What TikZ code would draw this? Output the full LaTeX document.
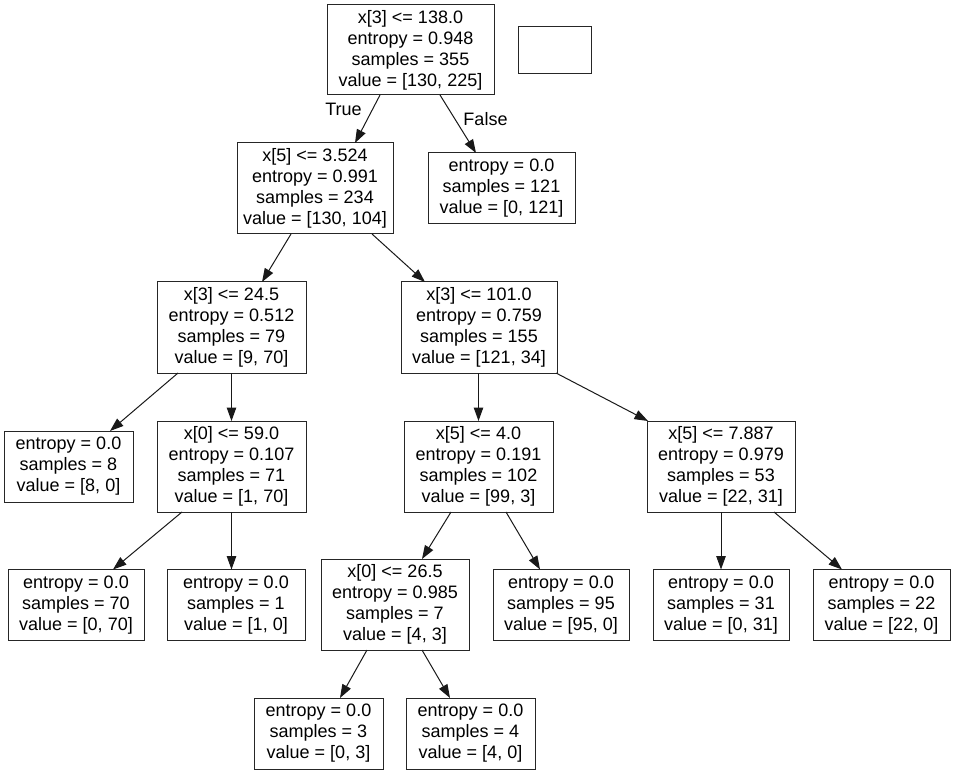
\documentclass[tikz,border=0pt]{standalone}
\usepackage{fontspec}
\setmainfont{Liberation Sans}
\usetikzlibrary{arrows.meta}

\begin{document}
\begin{tikzpicture}[x=1pt, y=-1pt,
  font=\fontsize{18}{21}\selectfont,
  treebox/.style={draw=black!85, rectangle, inner sep=0pt, outer sep=0pt,
    align=center, line width=1pt},
  split/.style={treebox, minimum height=91pt},
  leaf/.style={treebox, minimum height=71pt},
  link/.style={draw=black!90, line width=1pt, -{Triangle[length=13.5pt,width=9.5pt]}},
  edgelabel/.style={inner sep=0pt}]

% canvas
\fill[white] (0,0) rectangle (955,775);
\useasboundingbox (0,0) rectangle (955,775);

% decision nodes
\node[split, minimum width=167pt, minimum height=90pt] (root) at (410.5,50)
  {x[3] <= 138.0\\entropy = 0.948\\samples = 355\\value = [130, 225]};
\node[split, minimum width=156pt] (n1) at (315,188.5)
  {x[5] <= 3.524\\entropy = 0.991\\samples = 234\\value = [130, 104]};
\node[split, minimum width=149pt] (n2) at (231.5,327.5)
  {x[3] <= 24.5\\entropy = 0.512\\samples = 79\\value = [9, 70]};
\node[split, minimum width=156pt] (n3) at (479,327.5)
  {x[3] <= 101.0\\entropy = 0.759\\samples = 155\\value = [121, 34]};
\node[split, minimum width=149pt] (n4) at (231.5,466.5)
  {x[0] <= 59.0\\entropy = 0.107\\samples = 71\\value = [1, 70]};
\node[split, minimum width=149pt] (n5) at (478.5,466.5)
  {x[5] <= 4.0\\entropy = 0.191\\samples = 102\\value = [99, 3]};
\node[split, minimum width=148pt] (n6) at (721,466.5)
  {x[5] <= 7.887\\entropy = 0.979\\samples = 53\\value = [22, 31]};
\node[split, minimum width=148pt] (n7) at (395,604.5)
  {x[0] <= 26.5\\entropy = 0.985\\samples = 7\\value = [4, 3]};

% empty box beside the root
\node[treebox, minimum width=73pt, minimum height=47pt] (blank) at (554.5,50.5) {};

% leaves
\node[leaf, minimum width=147pt] (lf) at (501.5,188.5)
  {entropy = 0.0\\samples = 121\\value = [0, 121]};
\node[leaf, minimum width=129pt] (l8) at (68.5,466.5)
  {entropy = 0.0\\samples = 8\\value = [8, 0]};
\node[leaf, minimum width=136pt] (l70) at (76,605)
  {entropy = 0.0\\samples = 70\\value = [0, 70]};
\node[leaf, minimum width=138pt] (l1) at (236,605)
  {entropy = 0.0\\samples = 1\\value = [1, 0]};
\node[leaf, minimum width=136pt] (l95) at (561,605)
  {entropy = 0.0\\samples = 95\\value = [95, 0]};
\node[leaf, minimum width=136pt] (l31) at (721,605)
  {entropy = 0.0\\samples = 31\\value = [0, 31]};
\node[leaf, minimum width=137pt] (l22) at (881.5,605)
  {entropy = 0.0\\samples = 22\\value = [22, 0]};
\node[leaf, minimum width=129pt] (l3) at (318.5,733.5)
  {entropy = 0.0\\samples = 3\\value = [0, 3]};
\node[leaf, minimum width=129pt] (l4) at (470.5,733.5)
  {entropy = 0.0\\samples = 4\\value = [4, 0]};

% connectors
\draw[link] ([xshift=-30.5pt]root.south) -- ([xshift=40pt]n1.north);
\draw[link] ([xshift=29.5pt]root.south) -- ([xshift=-25.5pt]lf.north);
\draw[link] ([xshift=-24pt]n1.south) -- ([xshift=30.5pt]n2.north);
\draw[link] ([xshift=57pt]n1.south) -- ([xshift=-54pt]n3.north);
\draw[link] ([xshift=-53.5pt]n2.south) -- ([xshift=41.5pt]l8.north);
\draw[link] (n2.south) -- (n4.north);
\draw[link] ([xshift=-49.5pt]n4.south) -- ([xshift=37pt]l70.north);
\draw[link] (n4.south) -- ([xshift=-4.5pt]l1.north);
\draw[link] ([xshift=-0.5pt]n3.south) -- (n5.north);
\draw[link] ([xshift=77pt]n3.south) -- ([xshift=-73pt]n6.north);
\draw[link] ([xshift=-27.5pt]n5.south) -- ([xshift=27pt]n7.north);
\draw[link] ([xshift=27.5pt]n5.south) -- ([xshift=-21pt]l95.north);
\draw[link] (n6.south) -- (l31.north);
\draw[link] ([xshift=53pt]n6.south) -- ([xshift=-39.5pt]l22.north);
\draw[link] ([xshift=-28pt]n7.south) -- ([xshift=21.5pt]l3.north);
\draw[link] ([xshift=27pt]n7.south) -- ([xshift=-20.5pt]l4.north);

% branch labels
\node[edgelabel] (ltrue) at (343.5,109.5) {True};
\node[edgelabel] (lfalse) at (485.5,119) {False};
\end{tikzpicture}
\end{document}
